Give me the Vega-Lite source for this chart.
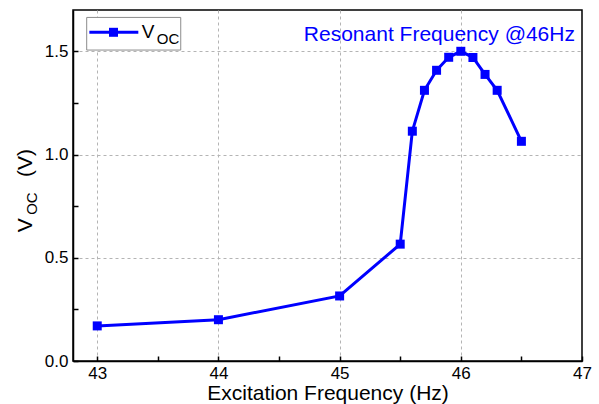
{
  "$schema": "https://vega.github.io/schema/vega-lite/v6.json",
  "width": 509,
  "height": 351,
  "autosize": "none",
  "padding": {"left": 73, "top": 10, "right": 17, "bottom": 43},
  "background": "white",
  "config": {
    "font": "Liberation Sans",
    "view": {"stroke": "black", "strokeWidth": 1.5},
    "text": {"fontWeight": "normal", "font": "Liberation Sans"},
    "axis": {
      "labelFont": "Liberation Sans",
      "titleFont": "Liberation Sans",
      "labelFontSize": 17,
      "labelColor": "#000000",
      "titleColor": "#000000",
      "titleFontWeight": "normal",
      "domainColor": "#000000",
      "domainWidth": 1.5,
      "tickColor": "#000000",
      "tickWidth": 1.5,
      "tickSize": -5,
      "gridColor": "#b4b4b4",
      "gridDash": [3, 3],
      "gridWidth": 1
    }
  },
  "layer": [
    {
      "data": {
        "values": [
          {"f": 43.0, "v": 0.17},
          {"f": 44.0, "v": 0.2},
          {"f": 45.0, "v": 0.315},
          {"f": 45.5, "v": 0.566},
          {"f": 45.6, "v": 1.113},
          {"f": 45.7, "v": 1.311},
          {"f": 45.8, "v": 1.408},
          {"f": 45.9, "v": 1.471},
          {"f": 46.0, "v": 1.5},
          {"f": 46.1, "v": 1.47},
          {"f": 46.2, "v": 1.388},
          {"f": 46.3, "v": 1.311},
          {"f": 46.5, "v": 1.064}
        ]
      },
      "mark": {"type": "line", "color": "#0000FF", "strokeWidth": 3, "point": {"shape": "square", "size": 81, "filled": true, "color": "#0000FF", "opacity": 1}},
      "encoding": {
        "x": {
          "field": "f", "type": "quantitative",
          "scale": {"domain": [42.8, 47], "nice": false, "zero": false},
          "axis": {
            "title": "Excitation Frequency (Hz)",
            "titleFontSize": 21,
            "titlePadding": 1,
            "labelPadding": 9,
            "values": [43, 43.5, 44, 44.5, 45, 45.5, 46, 46.5, 47],
            "labelExpr": "datum.value % 1 === 0 ? format(datum.value, 'd') : ''",
            "gridOpacity": {"condition": {"test": "datum.value % 1 !== 0 || datum.value === 47", "value": 0}, "value": 1},
            "labelFlush": false
          }
        },
        "y": {
          "field": "v", "type": "quantitative",
          "scale": {"domain": [0, 1.7], "nice": false},
          "axis": {
            "title": null,
            "labelPadding": 10,
            "values": [0, 0.25, 0.5, 0.75, 1.0, 1.25, 1.5],
            "labelExpr": "(datum.value * 2) % 1 === 0 ? format(datum.value, '.1f') : ''",
            "gridOpacity": {"condition": {"test": "(datum.value * 2) % 1 !== 0 || datum.value === 0", "value": 0}, "value": 1},
            "labelFlush": false
          }
        }
      }
    },
    {
      "data": {"values": [{"item": "legend"}]},
      "mark": {"type": "rect", "fill": "white", "stroke": "#8c8c8c", "strokeWidth": 1},
      "encoding": {
        "x": {"datum": 42.913}, "x2": {"datum": 43.689},
        "y": {"datum": 1.664}, "y2": {"datum": 1.506}
      }
    },
    {
      "data": {"values": [{"item": "legend"}]},
      "mark": {"type": "rule", "color": "#0000FF", "strokeWidth": 3},
      "encoding": {
        "x": {"datum": 42.935}, "x2": {"datum": 43.339},
        "y": {"datum": 1.592}
      }
    },
    {
      "data": {"values": [{"item": "legend"}]},
      "mark": {"type": "point", "shape": "square", "size": 81, "filled": true, "color": "#0000FF", "opacity": 1},
      "encoding": {"x": {"datum": 43.134}, "y": {"datum": 1.592}}
    },
    {
      "data": {"values": [{"item": "legend"}]},
      "mark": {"type": "text", "text": "V", "fontSize": 19, "align": "left", "baseline": "alphabetic", "fill": "#000000"},
      "encoding": {"x": {"datum": 43.367}, "y": {"datum": 1.563}}
    },
    {
      "data": {"values": [{"item": "legend"}]},
      "mark": {"type": "text", "text": "OC", "fontSize": 15, "align": "left", "baseline": "alphabetic", "fill": "#000000"},
      "encoding": {"x": {"datum": 43.491}, "y": {"datum": 1.535}}
    },
    {
      "data": {"values": [{"item": "note"}]},
      "mark": {"type": "text", "text": "Resonant Frequency @46Hz", "fontSize": 21, "align": "right", "baseline": "alphabetic", "fill": "#0000FF"},
      "encoding": {"x": {"datum": 46.942}, "y": {"datum": 1.55}}
    },
    {
      "data": {"values": [{"item": "ytitle"}]},
      "mark": {"type": "text", "text": "V", "fontSize": 21, "angle": 270, "align": "left", "baseline": "alphabetic", "fill": "#000000", "clip": false},
      "encoding": {"x": {"datum": 42.462}, "y": {"datum": 0.623}}
    },
    {
      "data": {"values": [{"item": "ytitle"}]},
      "mark": {"type": "text", "text": "OC", "fontSize": 15, "angle": 270, "align": "left", "baseline": "alphabetic", "fill": "#000000", "clip": false},
      "encoding": {"x": {"datum": 42.5}, "y": {"datum": 0.708}}
    },
    {
      "data": {"values": [{"item": "ytitle"}]},
      "mark": {"type": "text", "text": "(V)", "fontSize": 21, "angle": 270, "align": "left", "baseline": "alphabetic", "fill": "#000000", "clip": false},
      "encoding": {"x": {"datum": 42.462}, "y": {"datum": 0.891}}
    }
  ]
}
